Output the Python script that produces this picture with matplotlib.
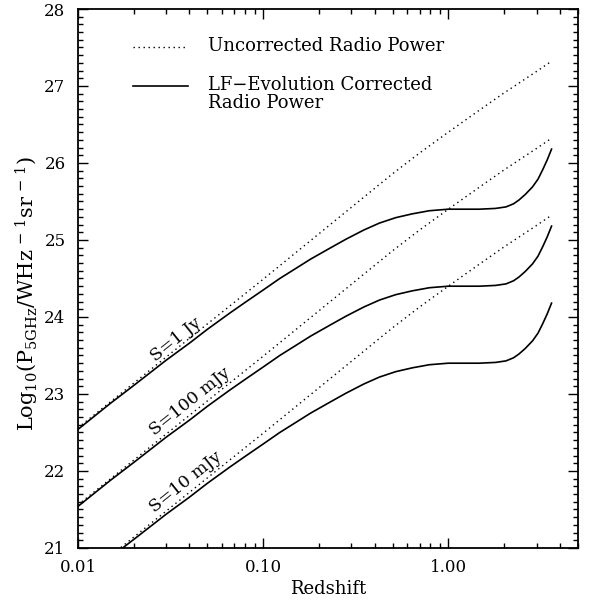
import numpy as np
import matplotlib
matplotlib.use("Agg")
import matplotlib.pyplot as plt
from matplotlib.ticker import FixedLocator, LogLocator, MultipleLocator, NullFormatter

plt.rcParams['font.family'] = 'DejaVu Serif'
plt.rcParams['mathtext.fontset'] = 'dejavuserif'

# Uncorrected radio power (dotted)
z_unc = [0.01, 0.02, 0.05, 0.1, 0.2, 0.5, 0.7, 1.0, 1.5, 2.0, 3.0, 3.6]
p_unc_1jy = [22.56, 23.14, 23.91, 24.49, 25.08, 25.86, 26.13, 26.40, 26.70, 26.91, 27.19, 27.32]
p_unc_100mjy = [21.56, 22.14, 22.91, 23.49, 24.08, 24.86, 25.13, 25.40, 25.70, 25.91, 26.19, 26.32]
p_unc_10mjy = [20.56, 21.14, 21.91, 22.49, 23.08, 23.86, 24.13, 24.40, 24.70, 24.91, 25.19, 25.32]

# LF-evolution corrected radio power (solid)
z_cor = [0.01, 0.015, 0.02, 0.03, 0.04, 0.05, 0.066, 0.08, 0.1, 0.123, 0.15, 0.18,
         0.228, 0.28, 0.35, 0.425, 0.52, 0.64, 0.79, 1.0, 1.2, 1.47, 1.8, 2.05,
         2.25, 2.41, 2.6, 2.85, 3.05, 3.23, 3.42, 3.61]
p_cor_1jy = [22.54, 22.88, 23.11, 23.44, 23.66, 23.84, 24.05, 24.19, 24.35, 24.50, 24.63, 24.75,
             24.89, 25.01, 25.13, 25.22, 25.29, 25.34, 25.38, 25.40, 25.40, 25.40, 25.41, 25.43,
             25.47, 25.52, 25.59, 25.69, 25.79, 25.91, 26.04, 26.18]
p_cor_100mjy = [21.54, 21.88, 22.11, 22.44, 22.66, 22.84, 23.05, 23.19, 23.35, 23.50, 23.63, 23.75,
                23.89, 24.01, 24.13, 24.22, 24.29, 24.34, 24.38, 24.40, 24.40, 24.40, 24.41, 24.43,
                24.47, 24.52, 24.59, 24.69, 24.79, 24.91, 25.04, 25.18]
p_cor_10mjy = [20.54, 20.88, 21.11, 21.44, 21.66, 21.84, 22.05, 22.19, 22.35, 22.50, 22.63, 22.75,
               22.89, 23.01, 23.13, 23.22, 23.29, 23.34, 23.38, 23.40, 23.40, 23.40, 23.41, 23.43,
               23.47, 23.52, 23.59, 23.69, 23.79, 23.91, 24.04, 24.18]

flux_labels = ['S=1 Jy', 'S=100 mJy', 'S=10 mJy']
label_z = [0.0337, 0.0402, 0.0382]
label_p = [23.70, 22.90, 21.86]

fig = plt.figure(figsize=(5.95, 6.0), dpi=100)
ax = fig.add_axes([0.131, 0.0867, 0.840, 0.8983])

dot = (0, (1, 2.6))
for p in (p_unc_1jy, p_unc_100mjy, p_unc_10mjy):
    ax.plot(z_unc, p, color='black', lw=1.0, ls=dot)
for p in (p_cor_1jy, p_cor_100mjy, p_cor_10mjy):
    ax.plot(z_cor, p, color='black', lw=1.2)

for t, zx, py in zip(flux_labels, label_z, label_p):
    ax.text(zx, py, t, rotation=38.7, rotation_mode='anchor', ha='center', va='center',
            fontsize=12.5)

ax.set_xscale('log')
ax.set_xlim(0.01, 5.0)
ax.set_ylim(21, 28)
ax.xaxis.set_major_locator(FixedLocator([0.01, 0.1, 1.0]))
ax.set_xticklabels(['0.01', '0.10', '1.00'])
ax.xaxis.set_minor_locator(LogLocator(base=10, subs=np.arange(2, 10)))
ax.xaxis.set_minor_formatter(NullFormatter())
ax.yaxis.set_major_locator(MultipleLocator(1))
ax.yaxis.set_minor_locator(MultipleLocator(0.1))

ax.tick_params(which='both', direction='in', top=True, right=True, width=1.0, labelsize=12)
ax.tick_params(which='major', length=7)
ax.tick_params(which='minor', length=3.5)
ax.tick_params(axis='x', which='major', pad=8)
ax.tick_params(axis='y', which='major', pad=9)
for s in ax.spines.values():
    s.set_linewidth(1.3)

ax.set_xlabel('Redshift', fontsize=13, labelpad=3)
ax.set_ylabel(r'Log$_{10}$(P$_{\rm 5GHz}$/WHz$^{\,-\,1}$sr$^{\,-\,1}$)', fontsize=15)
ax.yaxis.set_label_coords(-0.074, 0.473)

# legend drawn by hand
ax.plot([0.11, 0.22], [0.9295, 0.9295], transform=ax.transAxes, color='black', lw=1.0, ls=dot)
ax.plot([0.11, 0.22], [0.857, 0.857], transform=ax.transAxes, color='black', lw=1.2)
ax.text(0.26, 0.931, 'Uncorrected Radio Power', transform=ax.transAxes, va='center', fontsize=13)
ax.text(0.26, 0.859, 'LF\u2212Evolution Corrected', transform=ax.transAxes, va='center', fontsize=13)
ax.text(0.26, 0.826, 'Radio Power', transform=ax.transAxes, va='center', fontsize=13)

fig.savefig('out.png', dpi=100)
